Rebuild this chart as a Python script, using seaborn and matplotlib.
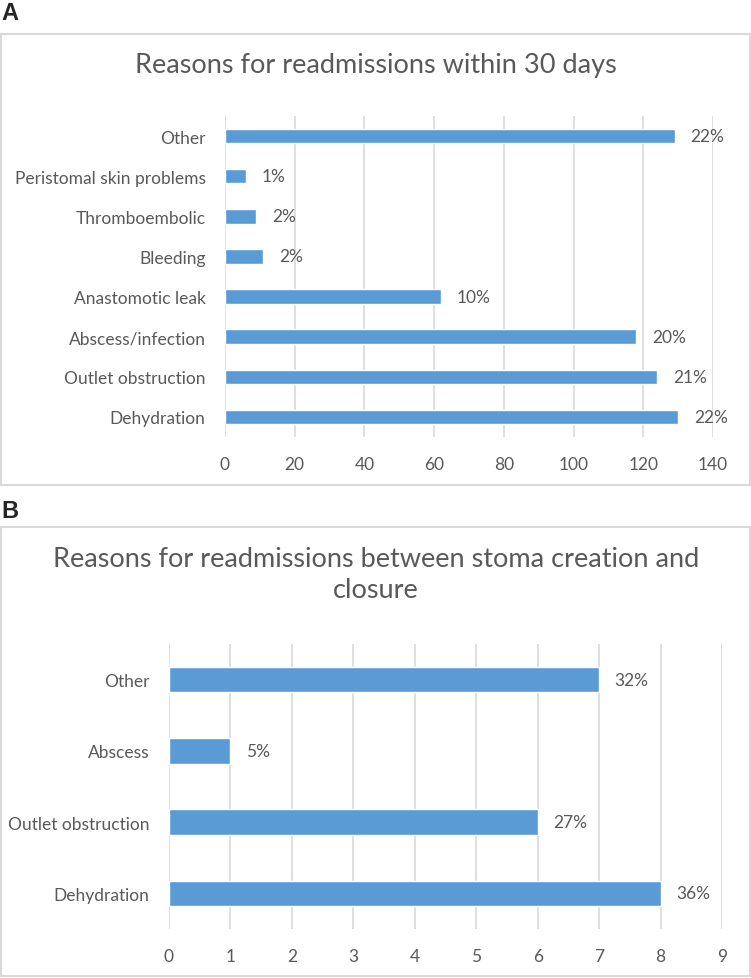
import matplotlib
matplotlib.use('Agg')
import matplotlib.pyplot as plt
import seaborn as sns
import pandas as pd
from matplotlib.patches import Rectangle

sns.set_style('white')
plt.rcParams['font.family'] = ['Lato', 'DejaVu Sans']

# panel A data (top to bottom as drawn)
reasons_30 = ['Other', 'Peristomal skin problems', 'Thromboembolic', 'Bleeding',
              'Anastomotic leak', 'Abscess/infection', 'Outlet obstruction', 'Dehydration']
counts_30 = [129, 6, 9, 11, 62, 118, 124, 130]
pct_30 = ['22%', '1%', '2%', '2%', '10%', '20%', '21%', '22%']

# panel B data
reasons_closure = ['Other', 'Abscess', 'Outlet obstruction', 'Dehydration']
counts_closure = [7, 1, 6, 8]
pct_closure = ['32%', '5%', '27%', '36%']

bar_color = '#5B9BD5'
text_color = '#595959'
grid_color = '#d9d9d9'

W, H = 751, 979
fig = plt.figure(figsize=(W / 100, H / 100), dpi=100)


def fx(px):
    return px / W


def fy(py):
    return 1 - py / H


def draw_panel(ax, cats, vals, labels, xmax, step, label_gap):
    df = pd.DataFrame({'reason': cats, 'n': vals})
    sns.barplot(data=df, x='n', y='reason', orient='h', color=bar_color,
                width=0.36, ax=ax, saturation=1)
    ax.set_xlim(0, xmax)
    ax.set_xticks(range(0, xmax + 1, step))
    ax.grid(axis='x', color=grid_color, lw=1.2)
    ax.set_axisbelow(True)
    for s in ax.spines.values():
        s.set_visible(False)
    ax.set_xlabel('')
    ax.set_ylabel('')
    ax.tick_params(axis='x', length=0, pad=14, labelsize=12.5, labelcolor=text_color)
    ax.tick_params(axis='y', length=0, pad=14, labelsize=12.5, labelcolor=text_color)
    for i, (v, lab) in enumerate(zip(vals, labels)):
        ax.text(v + label_gap, i, lab, va='center', ha='left',
                fontsize=12.5, color=text_color)


# panel A
fig.text(fx(1), fy(14), 'A', fontsize=17, fontweight='bold',
         family='Liberation Sans', va='center', ha='left')
fig.patches.append(Rectangle((fx(1), fy(486)), fx(749), (486 - 35) / H,
                             transform=fig.transFigure, fill=False,
                             ec=grid_color, lw=1.5))
fig.text(fx(376), fy(65), 'Reasons for readmissions within 30 days',
         fontsize=19.5, color=text_color, ha='center', va='center')
axA = fig.add_axes([fx(225), fy(438), fx(713 - 225), (438 - 117) / H])
draw_panel(axA, reasons_30, counts_30, pct_30, 140, 20, 4.5)

# panel B
fig.text(fx(1), fy(512), 'B', fontsize=17, fontweight='bold',
         family='Liberation Sans', va='center', ha='left')
fig.patches.append(Rectangle((fx(1), fy(977)), fx(749), (977 - 528) / H,
                             transform=fig.transFigure, fill=False,
                             ec=grid_color, lw=1.5))
fig.text(fx(376), fy(575), 'Reasons for readmissions between stoma creation and\nclosure',
         fontsize=19.5, color=text_color, ha='center', va='center', linespacing=1.3)
axB = fig.add_axes([fx(169), fy(930), fx(722 - 169), (930 - 645) / H])
draw_panel(axB, reasons_closure, counts_closure, pct_closure, 9, 1, 0.25)

fig.savefig('out.png', dpi=100)
